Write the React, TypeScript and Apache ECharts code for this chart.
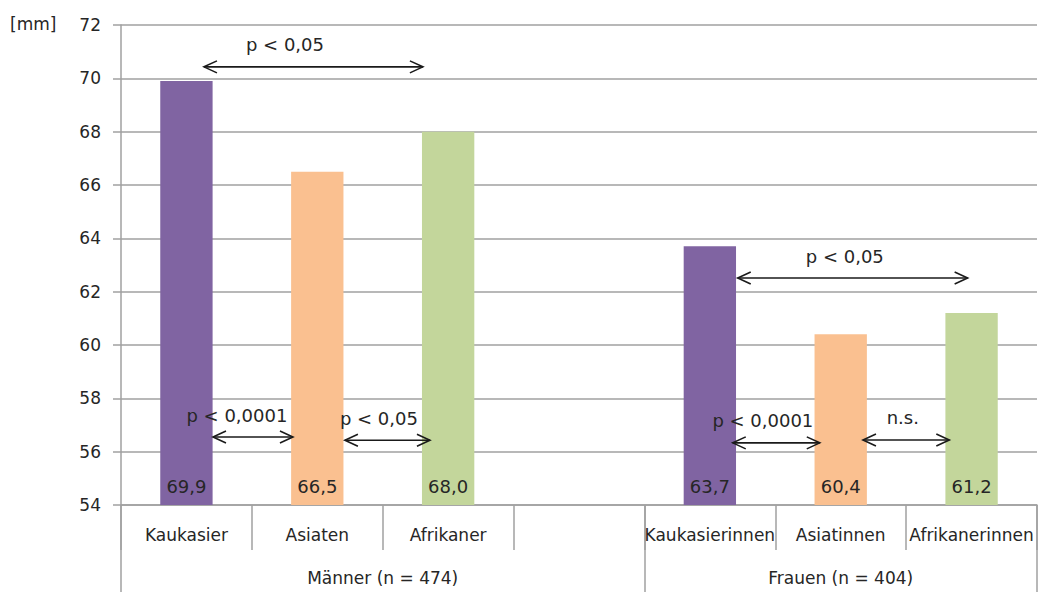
import React, { useEffect, useRef } from "react";
import * as echarts from "echarts";

// Bars: one slot per group member, with an empty slot separating the two groups
const categories = ["Kaukasier", "Asiaten", "Afrikaner", "", "Kaukasierinnen", "Asiatinnen", "Afrikanerinnen"];
const values: (number | null)[] = [69.9, 66.5, 68.0, null, 63.7, 60.4, 61.2];
const barColors = ["#8064A2", "#FAC090", "#C3D69B", "#ffffff", "#8064A2", "#FAC090", "#C3D69B"];

// Group axis (value scale 0..7 spanning the seven slots)
const groupNames = ["Männer (n = 474)", "Frauen (n = 404)"];
const groupCenters = [2, 5.5];
const groupBounds = [0, 4, 7];

// Y axis
const yMin = 54;
const yMax = 72;
const yStep = 2;

// Significance arrows, in group-axis units (x) and mm (y)
const arrowFrom = [0.634, 0.703, 1.711, 4.713, 4.675, 5.67];
const arrowTo = [2.307, 1.314, 2.361, 6.47, 5.34, 6.33];
const arrowLevel = [70.43, 56.55, 56.43, 62.51, 56.33, 56.44];
const arrowTextX = [1.253, 0.886, 1.971, 5.531, 4.905, 5.974];
const arrowText = ["p < 0,05", "p < 0,0001", "p < 0,05", "p < 0,05", "p < 0,0001", "n.s."];

const FONT = "DejaVu Sans";
const TEXT = "#262626";
const GRID = "#a0a0a0";

const fmt = (v: number) => v.toFixed(1).replace(".", ",");

export default function App() {
  const ref = useRef<HTMLDivElement>(null);

  useEffect(() => {
    document.body.style.margin = "0";
    const chart = echarts.init(ref.current!, null, { renderer: "svg" });

    const renderArrow = (params: any, api: any) => {
      const y = api.value(2);
      const p1 = api.coord([api.value(0), y]);
      const p2 = api.coord([api.value(1), y]);
      const pt = api.coord([api.value(3), y]);
      const L = 13;
      const W = 6;
      const stroke = { stroke: "#1a1a1a", lineWidth: 1.6, fill: "none" };
      return {
        type: "group",
        children: [
          { type: "line", shape: { x1: p1[0], y1: p1[1], x2: p2[0], y2: p2[1] }, style: stroke },
          {
            type: "polyline",
            shape: { points: [[p1[0] + L, p1[1] - W], [p1[0], p1[1]], [p1[0] + L, p1[1] + W]] },
            style: stroke,
          },
          {
            type: "polyline",
            shape: { points: [[p2[0] - L, p2[1] - W], [p2[0], p2[1]], [p2[0] - L, p2[1] + W]] },
            style: stroke,
          },
          {
            type: "text",
            x: pt[0],
            y: pt[1] - 22,
            style: {
              text: arrowText[params.dataIndex],
              align: "center",
              verticalAlign: "middle",
              fill: TEXT,
              font: `18px "${FONT}"`,
            },
          },
        ],
      };
    };

    chart.setOption({
      animation: false,
      backgroundColor: "#ffffff",
      textStyle: { fontFamily: FONT },
      grid: { left: 121, right: 7, top: 25, bottom: 87, containLabel: false },
      graphic: [
        {
          type: "text",
          left: 10,
          top: 15,
          style: { text: "[mm]", fill: TEXT, font: `17px "${FONT}"` },
        },
      ],
      xAxis: [
        {
          type: "category",
          data: categories,
          position: "bottom",
          axisLine: { show: true, lineStyle: { color: GRID, width: 1.5 } },
          axisTick: { show: true, interval: 0, alignWithLabel: false, length: 45, lineStyle: { color: GRID, width: 1.5 } },
          axisLabel: { interval: 0, margin: 21, fontSize: 17, color: TEXT, fontFamily: FONT },
          splitLine: { show: false },
        },
        {
          type: "value",
          min: 0,
          max: 7,
          position: "bottom",
          axisLine: { show: false },
          splitLine: { show: false },
          axisTick: { show: true, customValues: groupBounds, length: 87, lineStyle: { color: GRID, width: 1.5 } },
          axisLabel: {
            customValues: groupCenters,
            formatter: (v: number) => groupNames[groupCenters.indexOf(v)] ?? "",
            margin: 64,
            fontSize: 17,
            color: TEXT,
            fontFamily: FONT,
          },
        },
      ],
      yAxis: {
        type: "value",
        min: yMin,
        max: yMax,
        interval: yStep,
        axisLine: { show: true, lineStyle: { color: GRID, width: 1.5 } },
        axisTick: { show: true, length: 8, lineStyle: { color: GRID, width: 1.5 } },
        axisLabel: { margin: 20, fontSize: 17, color: TEXT, fontFamily: FONT },
        splitLine: { show: true, lineStyle: { color: GRID, width: 1.5 } },
      },
      series: [
        {
          type: "bar",
          xAxisIndex: 0,
          yAxisIndex: 0,
          barWidth: "40%",
          data: values.map((v, i) => ({ value: v, itemStyle: { color: barColors[i] } })),
          label: {
            show: true,
            position: "insideBottom",
            distance: 10,
            formatter: (p: any) => (p.value == null ? "" : fmt(p.value)),
            color: TEXT,
            fontSize: 18,
            fontFamily: FONT,
          },
        },
        {
          type: "custom",
          xAxisIndex: 1,
          yAxisIndex: 0,
          data: arrowFrom.map((f, i) => [f, arrowTo[i], arrowLevel[i], arrowTextX[i]]),
          encode: { x: [0, 1, 3], y: 2 },
          renderItem: renderArrow,
          z: 5,
        },
      ],
    });

    return () => chart.dispose();
  }, []);

  return <div ref={ref} style={{ width: 1044, height: 592 }} />;
}
